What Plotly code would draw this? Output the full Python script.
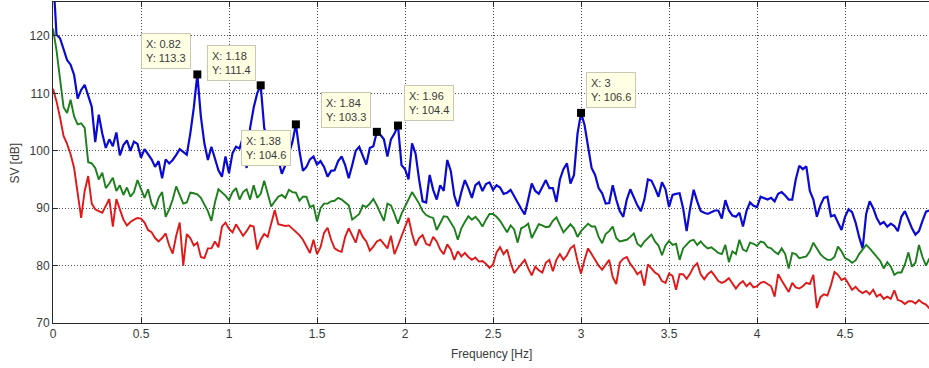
import numpy as np
import plotly.graph_objects as go

# Frequency bins (Hz), 0.02 Hz resolution
freq = np.round(np.arange(250) * 0.02, 2)

# Spectral level SV [dB] per frequency bin
sv_blue = [
    131.0, 120.2, 119.6, 117.6, 115.8, 115.0, 113.2, 109.1, 110.6, 111.5,
    109.7, 107.7, 101.5, 106.3, 103.0, 100.5, 102.0, 100.8, 103.2, 99.2,
    101.0, 101.8, 100.0, 101.6, 101.2, 98.8, 100.3, 99.3, 98.5, 97.2,
    98.2, 95.2, 98.5, 97.8, 98.4, 99.3, 100.3, 99.8, 99.3, 103.0,
    107.5, 113.3, 106.0, 101.3, 98.4, 100.7, 98.4, 96.6, 95.5, 99.0,
    96.1, 99.6, 100.7, 100.4, 102.5, 97.0, 104.0, 107.5, 110.0, 111.4,
    104.0, 101.5, 103.5, 101.0, 98.2, 96.0, 97.5, 99.5, 101.5, 104.6,
    100.0, 96.5, 97.2, 98.5, 99.0, 97.6, 98.2, 97.2, 95.5, 96.5,
    96.6, 98.2, 99.0, 97.5, 95.2, 97.5, 100.0, 100.7, 99.3, 97.6,
    100.5, 100.8, 103.3, 102.8, 102.0, 99.0, 102.0, 103.0, 104.4, 97.5,
    96.8, 95.0, 101.3, 99.5, 95.0, 91.2, 91.0, 95.8, 93.2, 91.5,
    94.0, 93.0, 98.4, 96.5, 92.2, 90.3, 92.8, 94.9, 93.5, 91.8,
    94.0, 94.5, 93.0, 94.2, 94.5, 93.2, 94.0, 93.6, 92.5, 92.7,
    93.2, 92.0, 91.0, 89.9, 88.9, 91.5, 94.3, 93.0, 92.5, 93.7,
    94.9, 93.5, 93.5, 91.1, 95.0, 96.8, 97.8, 94.3, 95.8, 103.0,
    106.6, 104.5, 100.5, 97.0, 95.8, 93.5, 92.6, 90.8, 90.9, 94.0,
    91.5, 89.5, 88.5, 91.5, 93.3, 91.8, 90.5, 89.5, 91.5, 95.0,
    94.8, 93.5, 92.0, 94.5, 93.3, 90.2, 92.3, 92.5, 92.6, 90.0,
    86.0, 90.0, 93.2, 91.2, 89.5, 89.2, 89.0, 89.3, 89.6, 89.6,
    88.2, 91.4, 89.6, 88.7, 88.5, 89.2, 86.8, 89.5, 91.0, 90.4,
    90.2, 92.0, 91.8, 91.5, 91.8, 91.2, 92.5, 92.8, 92.2, 91.5,
    91.5, 95.0, 97.4, 96.8, 97.3, 93.0, 91.5, 88.5, 90.5, 91.8,
    92.0, 88.6, 88.8, 87.5, 86.2, 88.5, 89.8, 89.3, 87.5, 85.0,
    83.0, 89.0, 91.2, 90.0, 88.3, 87.2, 87.6, 86.8, 87.3, 86.9,
    86.0, 88.5, 89.5, 88.0, 86.5, 85.4, 86.0, 87.8, 89.4, 89.6,
]

sv_green = [
    121.3, 117.5, 112.5, 107.6, 106.6, 108.9, 106.0, 104.6, 104.8, 104.0,
    98.0, 97.8, 97.0, 95.0, 96.2, 93.5, 94.3, 95.3, 93.0, 94.0,
    92.3, 93.6, 92.0, 92.8, 94.9, 93.3, 91.8, 93.3, 90.8, 89.8,
    91.8, 92.8, 88.5, 89.8, 91.5, 93.8, 92.3, 90.8, 91.0, 92.7,
    92.6, 92.4, 91.8, 90.5, 89.5, 87.8, 91.0, 93.3, 92.8, 92.2,
    91.4, 92.8, 93.5, 91.5, 92.8, 93.3, 91.5, 94.0, 91.8, 92.5,
    94.8, 92.5, 90.3, 91.2, 92.0, 92.3, 91.8, 93.2, 92.8, 92.7,
    91.3, 92.0, 92.0, 90.2, 90.5, 87.7, 90.0, 90.8, 90.8, 91.2,
    91.3, 91.8, 91.5, 91.0, 90.5, 88.0, 88.5, 89.0, 90.5, 90.2,
    90.8, 91.6, 90.5, 89.0, 87.8, 90.8, 90.5, 89.0, 87.3, 89.0,
    90.2, 91.5, 92.8, 91.8, 90.8, 89.5, 88.8, 88.5, 88.3, 86.2,
    87.5, 88.6, 88.5, 87.5, 86.5, 84.5, 86.5, 87.6, 88.6, 88.0,
    88.5, 87.8, 86.8, 88.0, 89.0, 89.0, 88.5, 87.8, 86.8, 85.8,
    87.0, 86.3, 84.0, 86.5, 86.8, 87.3, 84.8, 86.0, 87.2, 87.0,
    86.7, 86.8, 87.8, 88.4, 87.0, 85.8, 86.5, 87.2, 86.5, 85.0,
    86.0, 86.6, 87.3, 86.8, 86.8, 85.0, 83.9, 85.5, 86.0, 86.8,
    84.8, 84.2, 84.3, 84.5, 85.0, 85.6, 83.8, 83.3, 84.2, 84.8,
    85.4, 84.2, 83.5, 81.8, 83.5, 84.3, 83.6, 83.8, 81.0, 83.0,
    83.6, 84.3, 84.5, 83.6, 84.2, 83.5, 83.0, 83.2, 82.7, 82.2,
    82.0, 83.6, 80.6, 82.5, 82.0, 84.5, 82.8, 82.5, 84.0, 83.8,
    83.4, 84.2, 84.0, 83.2, 83.0, 82.4, 82.0, 83.0, 82.0, 79.5,
    82.2, 82.0, 81.3, 81.5, 81.6, 82.5, 84.0, 83.0, 82.0, 81.4,
    81.0, 81.0, 81.5, 83.3, 82.5, 81.3, 81.0, 80.5, 80.9, 82.0,
    82.8, 83.6, 83.0, 82.2, 81.6, 80.8, 79.5, 80.6, 79.8, 78.4,
    78.8, 78.8, 80.2, 82.3, 79.8, 80.5, 83.6, 81.5, 80.0, 81.3,
]

sv_red = [
    110.8, 108.6, 105.8, 102.6, 101.2, 99.4, 97.0, 92.8, 88.3, 93.0,
    95.6, 90.8, 89.8, 89.5, 89.2, 90.4, 91.6, 86.8, 91.6, 89.8,
    88.0, 87.0, 87.6, 88.0, 88.3, 88.2, 87.5, 86.2, 85.8, 84.8,
    84.2, 84.8, 85.6, 83.5, 82.1, 85.2, 87.5, 80.0, 85.5, 84.8,
    83.5, 84.0, 81.5, 81.3, 83.0, 83.0, 84.2, 83.2, 86.8, 87.5,
    86.4, 85.8, 87.2, 86.2, 85.2, 86.0, 87.0, 86.8, 82.8, 84.5,
    85.5, 85.0, 87.5, 89.7, 87.2, 87.0, 86.9, 87.0, 86.4, 85.8,
    85.3, 84.5, 83.2, 82.2, 84.5, 82.0, 83.2, 85.7, 86.6, 84.5,
    83.0, 82.6, 82.4, 85.0, 86.5, 85.3, 84.0, 86.3, 85.0, 84.2,
    82.6, 83.3, 84.2, 84.5, 83.8, 83.0, 85.2, 82.0, 83.5, 85.0,
    86.5, 88.3, 85.5, 83.5, 84.8, 85.3, 83.8, 83.5, 85.0, 84.2,
    82.8, 82.0, 83.7, 82.8, 81.0, 82.5, 81.6, 82.2, 81.5, 81.0,
    81.4, 80.7, 80.8, 80.3, 79.6, 80.2, 82.3, 83.2, 82.0, 82.8,
    80.5, 78.7, 79.5, 80.3, 81.0, 79.5, 78.3, 79.8, 79.2, 78.8,
    80.5, 81.0, 79.0, 81.0, 82.0, 81.0, 81.8, 83.0, 83.5, 80.8,
    78.6, 81.0, 83.0, 82.0, 81.0, 80.0, 79.3, 80.2, 81.0, 78.0,
    76.8, 80.5, 81.2, 81.5, 80.3, 79.5, 78.5, 79.0, 76.5, 80.2,
    79.5, 78.8, 78.4, 77.3, 77.0, 78.6, 78.2, 75.8, 78.5, 78.5,
    77.7, 78.6, 79.8, 80.4, 78.5, 77.6, 78.5, 79.0, 78.2, 77.3,
    77.0, 77.3, 77.8, 77.0, 76.0, 76.8, 77.3, 76.4, 77.0, 76.2,
    76.4, 77.0, 77.2, 76.8, 76.4, 74.6, 78.5, 77.4, 76.4, 75.4,
    77.0, 76.2, 76.0, 76.4, 77.0, 76.8, 78.4, 72.6, 74.5, 75.0,
    74.8, 76.6, 78.9, 78.4, 77.5, 77.8, 76.8, 75.8, 76.3, 75.6,
    75.2, 75.6, 75.0, 75.8, 74.6, 75.0, 74.2, 74.6, 74.2, 75.7,
    74.0, 73.8, 73.3, 73.8, 73.8, 73.4, 74.0, 73.5, 73.2, 72.5,
]

# Frequencies of the marked data tips on the blue curve
tip_freqs = [0.82, 1.18, 1.38, 1.84, 1.96, 3.0]

x_ticks = [0, 0.5, 1, 1.5, 2, 2.5, 3, 3.5, 4, 4.5]
x_tick_labels = ["0", "0.5", "1", "1.5", "2", "2.5", "3", "3.5", "4", "4.5"]
y_ticks = [70, 80, 90, 100, 110, 120]

FONT = "Liberation Sans, Arial, sans-serif"
TEXT = "#3a3a3a"
AXIS = "#2a2a2a"

fig = go.Figure()

for vals, color, width in [
    (sv_blue, "#0a0ad2", 2.2),
    (sv_green, "#1c7f1c", 1.9),
    (sv_red, "#e01818", 1.9),
]:
    fig.add_trace(go.Scatter(
        x=freq, y=vals, mode="lines",
        line=dict(color=color, width=width),
        hoverinfo="skip", showlegend=False,
    ))

tip_idx = [int(round(f / 0.02)) for f in tip_freqs]
tip_vals = [sv_blue[i] for i in tip_idx]

fig.add_trace(go.Scatter(
    x=tip_freqs, y=tip_vals, mode="markers",
    marker=dict(symbol="square", size=8, color="black", line=dict(width=0)),
    hoverinfo="skip", showlegend=False, cliponaxis=False,
))

# Data-tip label placement: (xanchor, yanchor, xshift, yshift)
tip_place = [
    ("right", "bottom", -6, 5),
    ("right", "bottom", -5, 4),
    ("right", "top", -5, -6),
    ("right", "bottom", -6, 4),
    ("left", "bottom", 6, 5),
    ("left", "bottom", 5, 5),
]

annotations = []
for f, v, (xa, ya, xs, ys) in zip(tip_freqs, tip_vals, tip_place):
    annotations.append(dict(
        x=f, y=v, xref="x", yref="y",
        text=f"X: {f:g}<br>Y: {v:.1f}",
        showarrow=False, align="left",
        xanchor=xa, yanchor=ya, xshift=xs, yshift=ys,
        bgcolor="#ffffe4", bordercolor="#c8c8b4", borderwidth=1, borderpad=4,
        font=dict(family=FONT, size=11, color=TEXT),
    ))

# Axis titles
annotations.append(dict(
    text="SV [dB]", xref="paper", yref="paper", x=-0.0434, y=0.5,
    xanchor="center", yanchor="middle", textangle=-90, showarrow=False,
    font=dict(family=FONT, size=12, color=TEXT),
))
annotations.append(dict(
    text="Frequency [Hz]", xref="paper", yref="paper", x=0.5, y=-0.0966,
    xanchor="center", yanchor="middle", showarrow=False,
    font=dict(family=FONT, size=12, color=TEXT),
))

grid = dict(showgrid=True, gridcolor="#505050", gridwidth=1, griddash="1px,2px")

fig.update_layout(
    width=929, height=368,
    margin=dict(l=53, r=0, t=2, b=45),
    paper_bgcolor="white", plot_bgcolor="white",
    annotations=annotations,
    xaxis=dict(
        range=[0, 4.977], tickvals=x_ticks, ticktext=x_tick_labels,
        ticks="inside", ticklen=5, tickcolor=AXIS, tickwidth=1,
        showline=True, linecolor=AXIS, linewidth=1, mirror="ticks",
        zeroline=False, tickfont=dict(family=FONT, size=12, color=TEXT),
        **grid,
    ),
    yaxis=dict(
        range=[70, 125.92], tickvals=y_ticks,
        ticks="inside", ticklen=5, tickcolor=AXIS, tickwidth=1,
        showline=True, linecolor=AXIS, linewidth=1, mirror=False,
        zeroline=False, tickfont=dict(family=FONT, size=12, color=TEXT),
        **grid,
    ),
)

fig.write_html("out.html")
